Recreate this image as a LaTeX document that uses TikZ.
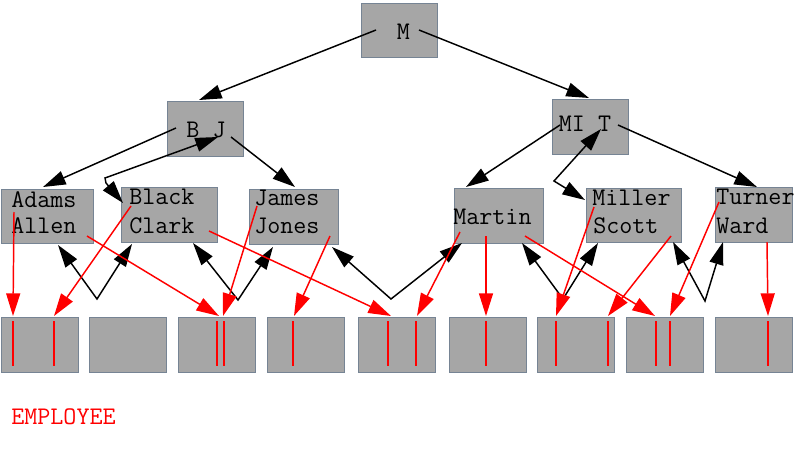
\documentclass[tikz,border=0pt]{standalone}
\usepackage{fontspec}
\usetikzlibrary{arrows.meta}
\definecolor{boxfill}{RGB}{166,166,166}
\definecolor{boxline}{RGB}{118,132,148}
\begin{document}
\begin{tikzpicture}[
        x=0.75pt, y=-0.75pt,
        % 方框樣式:灰底,藍灰邊
        box/.style 2 args={
            draw=boxline,
            fill=boxfill,
            line width=0.75pt,
            inner sep=0pt,
            anchor=north west,
            minimum width=#1*0.75pt,
            minimum height=#2*0.75pt
        },
        % 鍵值文字
        key/.style={
            font=\ttfamily\fontsize{19}{22}\selectfont,
            inner sep=0pt,
            anchor=base west
        },
        % 樹指標:黑色箭頭
        tree_edge/.style={
            draw=black,
            line width=1.1pt,
            -{Triangle[length=17pt,width=10.5pt]}
        },
        % 兩端箭頭
        link_edge/.style={
            draw=black,
            line width=1.1pt,
            {Triangle[length=17pt,width=10.5pt]}-{Triangle[length=17pt,width=10.5pt]}
        },
        % 紀錄指標:紅色箭頭
        rec_edge/.style={
            draw=red,
            line width=1.1pt,
            -{Triangle[length=17pt,width=10.5pt]}
        },
        rec_mark/.style={
            draw=red,
            line width=1.5pt
        }
    ]
        \useasboundingbox (0,0) rectangle (794,454);

        % ==========================
        % 1. 方框
        % ==========================
        \node[box={76}{54}] (root) at (361,3) {};
        \node[box={76}{55}] (bj) at (167,101) {};
        \node[box={76}{55}] (mit) at (552,99) {};
        \node[box={92}{54}] (aa) at (1,189) {};
        \node[box={96}{55}] (bc) at (121,187) {};
        \node[box={89}{55}] (jj) at (249,189) {};
        \node[box={89}{55}] (ma) at (454,188) {};
        \node[box={95}{54}] (ms) at (586,188) {};
        \node[box={77}{55}] (tw) at (715,187) {};
        % 資料頁
        \foreach \x [count=\i] in {1,89,178,267,358,449,537,626,715} {
            \node[box={77}{55}] (r\i) at (\x,317) {};
        }

        % ==========================
        % 2. 鍵值
        % ==========================
        \node[key, anchor=base] (km) at (403.5,39) {M};
        \node[key, anchor=base] (kbj) at (206,137) {B J};
        \node[key, anchor=base] (kmit) at (585,131) {MI T};
        \node[key] (adams) at (11,207) {Adams};
        \node[key] (allen) at (11,233) {Allen};
        \node[key] (black) at (129,204) {Black};
        \node[key] (clark) at (129,233) {Clark};
        \node[key] (james) at (254,205) {James};
        \node[key] (jones) at (254,233) {Jones};
        \node[key] (martin) at (453,224) {Martin};
        \node[key] (miller) at (592,205) {Miller};
        \node[key] (scott) at (593,233) {Scott};
        \node[key] (turner) at (716,204) {Turner};
        \node[key] (ward) at (716,233) {Ward};
        \node[key, text=red] (emp) at (11,424) {EMPLOYEE};

        % ==========================
        % 3. 指標位置
        % ==========================
        \foreach \n/\x/\y in {m0/376/30, m1/419/30, bj0/176/128, bj1/218/137,
                bj2/231/137, mit0/560/125, mit1/601/129, mit2/618/125,
                in-bj/199/100, in-mit/589/98, in-aa/43/187, in-jj/295/187,
                bend1/105/178, bend1b/106/183, in-bc/123/203, in-ma/466/187,
                bend2/554/181, in-ms/585/200, in-tw/757/187} {
            \coordinate (\n) at (\x,\y);
        }

        % 樹
        \draw[tree_edge] (m0) -- (in-bj);
        \draw[tree_edge] (m1) -- (in-mit);
        \draw[tree_edge] (bj0) -- (in-aa);
        \draw[tree_edge] (bj2) -- (in-jj);
        \draw[tree_edge] (mit0) -- (in-ma);
        \draw[tree_edge] (mit2) -- (in-tw);
        \draw[link_edge] (bj1) -- (bend1) -- (bend1b) -- (in-bc);
        \draw[link_edge] (mit1) -- (bend2) -- (in-ms);

        % 葉節點之間的雙向鏈結
        \foreach \i/\lx/\ly/\vx/\vy/\rx/\ry in {1/58/245/97/299/132/244,
                2/193/243/238/300/273/247, 3/332/247/391/299/462/243,
                4/522/243/563/299/598/243, 5/673/242/705/301/723/242} {
            \coordinate (vl\i) at (\lx,\ly);
            \coordinate (v\i) at (\vx,\vy);
            \coordinate (vr\i) at (\rx,\ry);
            \draw[link_edge] (vl\i) -- (v\i) -- (vr\i);
        }

        % ==========================
        % 4. 紀錄指標 (紅)
        % ==========================
        \foreach \x in {13,54,217,224,293,388,416,486,556,608,656,670,768} {
            \draw[rec_mark] (\x,321) -- (\x,366);
        }
        \foreach \n/\sx/\sy/\tx in {adams/14/212/13, black/131/206/54,
                allen/87/236/219, james/257/206/223, clark/209/231/391,
                jones/330/236/294, martinA/460/232/417, martinB/486/236/486,
                martinC/525/236/655, miller/594/207/556, scott/671/236/608,
                turner/719/202/670, ward/767/242/768} {
            \coordinate (p-\n) at (\sx,\sy);
            \coordinate (t-\n) at (\tx,316);
            \draw[rec_edge] (p-\n) -- (t-\n);
        }

    \end{tikzpicture}
\end{document}
